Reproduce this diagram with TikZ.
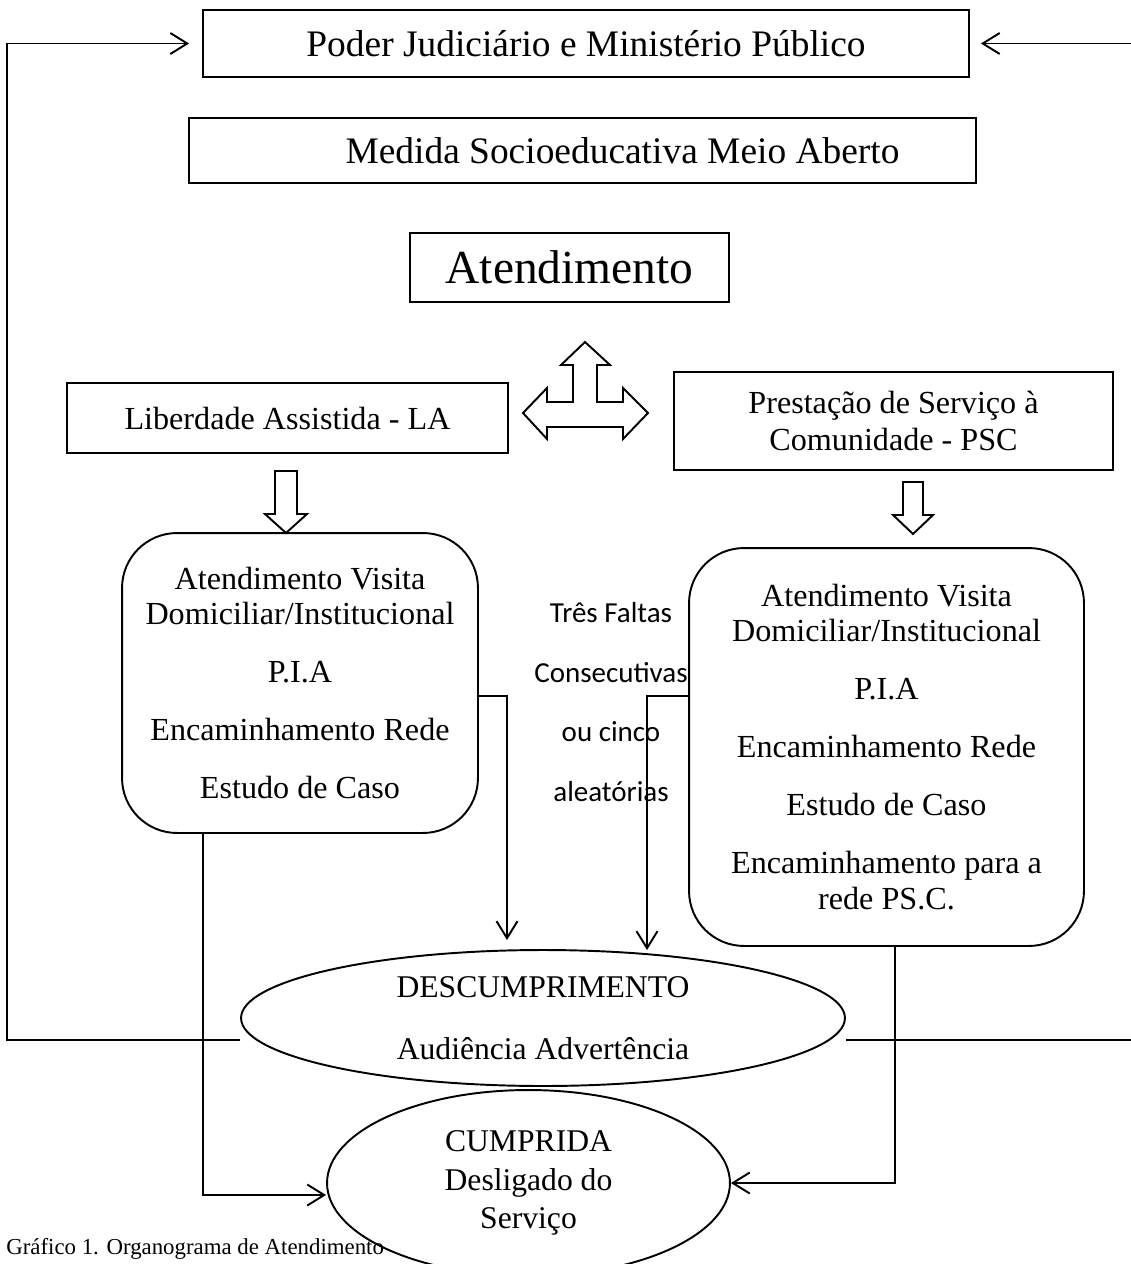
\documentclass[tikz,border=0pt]{standalone}
\usepackage{fontspec}
\setmainfont{Liberation Serif}
\newfontfamily\calibri{Carlito}
\usetikzlibrary{shapes.geometric,arrows.meta,calc,positioning}
\tikzset{>={Straight Barb[length=0.34cm,width=0.42cm]}}

\begin{document}
\begin{tikzpicture}[x=0.02cm,y=-0.02cm,
  box/.style={draw, line width=1.1pt, inner sep=0pt},
  roundbox/.style={draw, line width=1.1pt, rounded corners=1.1cm, inner sep=0pt, align=center, font=\fontsize{18.3}{20}\selectfont},
  oval/.style={draw, ellipse, line width=1.1pt, inner sep=0pt, align=center, font=\fontsize{18}{21}\selectfont},
  link/.style={line width=1.1pt, ->},
  hollow/.style={draw, line width=1.1pt, line join=miter}]
\useasboundingbox (0,0) rectangle (1131,1264);

% top boxes
\node[box, minimum width=15.32cm, minimum height=1.34cm, font=\fontsize{21.3}{24}\selectfont] (judic) at (586,43.5) {Poder Judiciário e Ministério Público};
\node[box, minimum width=15.74cm, minimum height=1.30cm, font=\fontsize{21.3}{24}\selectfont] (medida) at (582.5,150.5) {\hspace*{1.6cm}Medida Socioeducativa Meio Aberto};
\node[box, minimum width=6.38cm, minimum height=1.38cm, font=\fontsize{27}{30}\selectfont] (atend) at (569.5,267.5) {Atendimento};

% the two measures
\node[box, minimum width=8.82cm, minimum height=1.40cm, font=\fontsize{18.3}{20}\selectfont] (la) at (287.5,418) {Liberdade Assistida - LA};
\node[box, minimum width=8.78cm, minimum height=1.96cm, align=center, font=\fontsize{18.3}{21.5}\selectfont] (psc) at (893.5,421) {Prestação de Serviço à\\Comunidade - PSC};

% block arrows
\draw[hollow] (523,413) -- (547,388) -- (547,402) -- (573,402) -- (573,365) -- (561,365) -- (585,342)
  -- (610,365) -- (597,365) -- (597,402) -- (623,402) -- (623,388) -- (648,413) -- (623,439)
  -- (623,427) -- (547,427) -- (547,439) -- cycle;
\draw[hollow] (275,471) -- (297,471) -- (297,514) -- (307,514) -- (286,533) -- (265,514) -- (275,514) -- cycle;
\draw[hollow] (903,482) -- (923,482) -- (923,515) -- (933,515) -- (913,534) -- (893,515) -- (903,515) -- cycle;

% follow-up boxes
\node[roundbox, minimum width=7.12cm, minimum height=6.0cm] (lbox) at (300,683)
  {Atendimento Visita\\Domiciliar/Institucional\\[13pt]P.I.A\\[13pt]Encaminhamento Rede\\[13pt]Estudo de Caso};
\node[roundbox, minimum width=7.9cm, minimum height=7.96cm] (rbox) at (886.5,747)
  {Atendimento Visita\\Domiciliar/Institucional\\[13pt]P.I.A\\[13pt]Encaminhamento Rede\\[13pt]Estudo de Caso\\[13pt]Encaminhamento para a\\rede PS.C.};

\node[align=center, font=\calibri\fontsize{16.5}{34}\selectfont] (faltas) at (611,702)
  {Três Faltas\\Consecutivas\\ou cinco\\aleatórias};

% outcomes
\node[oval, minimum width=12.08cm, minimum height=2.72cm] (desc) at (543,1018)
  {DESCUMPRIMENTO\\[14pt]Audiência Advertência};
\node[oval, minimum width=8.06cm, minimum height=3.72cm, font=\fontsize{18}{22}\selectfont] (cump) at (528.5,1183)
  {CUMPRIDA\\Desligado do\\Serviço};

\coordinate (dl) at (507,940);
\coordinate (dr) at (647,950);

% connectors
\draw[link] ([yshift=-0.26cm]lbox.east) -| (dl);
\draw[link] ([yshift=1.02cm]rbox.west) -| (dr);
\draw[link, shorten >=0.26cm] ([yshift=-0.44cm]desc.west) -- ++(-233,0) |- (judic.west);
\draw[link, shorten >=0.22cm] ([yshift=-0.44cm]desc.east) -- ++(293,0) |- (judic.east);
\draw[link] ([xshift=-1.94cm]lbox.south) |- ([yshift=-0.24cm]cump.west);
\draw[link] ([xshift=0.17cm]rbox.south) |- (cump.east);

\node[anchor=north west, inner sep=0pt, font=\fontsize{13}{15}\selectfont] (caption) at (6,1238)
  {Gráfico 1. Organograma de Atendimento};
\end{tikzpicture}
\end{document}
